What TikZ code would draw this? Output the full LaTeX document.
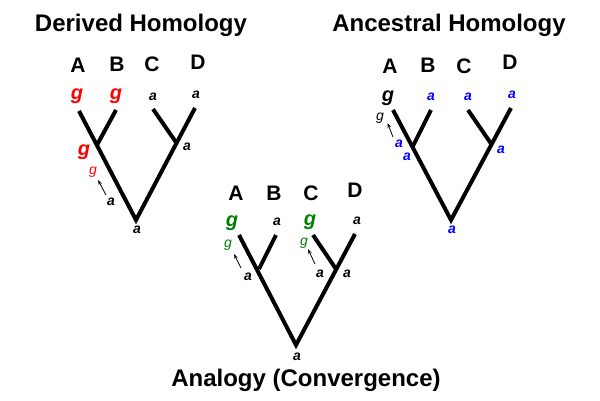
\documentclass[tikz,border=0pt]{standalone}
\usepackage{fontspec}
\setmainfont{Liberation Sans}
\usetikzlibrary{arrows.meta}
\definecolor{gr}{RGB}{0,128,0}
\tikzset{
  title/.style={font=\fontsize{24}{24}\selectfont\bfseries, inner sep=0pt},
  taxon/.style={font=\fontsize{21}{21}\selectfont\bfseries, inner sep=0pt},
  bigg/.style={font=\fontsize{20}{20}\selectfont\bfseries\itshape, inner sep=0pt},
  smallg/.style={font=\fontsize{14}{14}\selectfont\itshape, inner sep=0pt},
  st/.style={font=\fontsize{14}{14}\selectfont\bfseries\itshape, inner sep=0pt},
  branch/.style={line width=4pt, line join=miter},
  evo/.style={-{Stealth[length=5pt,width=3.5pt]}, line width=0.8pt},
}
\begin{document}
\begin{tikzpicture}[x=1pt,y=-1pt]
\useasboundingbox (0,0) rectangle (600,400);
% ---------- Derived Homology ----------
\node[title] (t1) at (141,25) {Derived Homology};
\node[taxon] (a1) at (78,65) {A};
\node[taxon] (b1) at (117,64) {B};
\node[taxon] (c1) at (152,64) {C};
\node[taxon] (d1) at (198,62) {D};
\node[bigg,red] (la1) at (77,96) {g};
\node[bigg,red] (lb1) at (116,96) {g};
\node[st] (lc1) at (153,97) {a};
\node[st] (ld1) at (196,95) {a};
\coordinate (pa1) at (79,111);
\coordinate (pb1) at (116,110);
\coordinate (pc1) at (153,109);
\coordinate (pd1) at (195,108);
\coordinate (jab1) at (97,145);
\coordinate (jcd1) at (176.5,143);
\coordinate (r1) at (136,220);
\draw[branch] (pa1) -- (r1) -- (pd1);
\draw[branch] (pb1) -- (jab1);
\draw[branch] (pc1) -- (jcd1);
\node[bigg,red] (gj1) at (84,152) {g};
\node[smallg,red] (gs1) at (93,172) {g};
\node[st] (as1) at (111,202) {a};
\node[st] (acd1) at (187,147) {a};
\node[st] (ar1) at (137,230) {a};
\coordinate (e1s) at (106,195);
\coordinate (e1e) at (98,180);
\draw[evo] (e1s) -- (e1e);
% ---------- Ancestral Homology ----------
\node[title] (t2) at (449,25) {Ancestral Homology};
\node[taxon] (a2) at (390,66) {A};
\node[taxon] (b2) at (428,65) {B};
\node[taxon] (c2) at (464,66) {C};
\node[taxon] (d2) at (510,62) {D};
\node[bigg] (la2) at (388,98) {g};
\node[st,blue] (lb2) at (431,97) {a};
\node[st,blue] (lc2) at (468,97) {a};
\node[st,blue] (ld2) at (512,95) {a};
\coordinate (pa2) at (393,110);
\coordinate (pb2) at (431,110);
\coordinate (pc2) at (468,110);
\coordinate (pd2) at (511,108);
\coordinate (jab2) at (412.5,147);
\coordinate (jcd2) at (492,145);
\coordinate (r2) at (451,220);
\draw[branch] (pa2) -- (r2) -- (pd2);
\draw[branch] (pb2) -- (jab2);
\draw[branch] (pc2) -- (jcd2);
\node[smallg] (gs2) at (380,118) {g};
\node[st,blue] (as2a) at (399,144) {a};
\node[st,blue] (as2b) at (407,157) {a};
\node[st,blue] (acd2) at (501,150) {a};
\node[st,blue] (ar2) at (452,230) {a};
\coordinate (e2s) at (393,137);
\coordinate (e2e) at (387.5,123);
\draw[evo] (e2s) -- (e2e);
% ---------- Analogy ----------
\node[title] (t3) at (306,380) {Analogy (Convergence)};
\node[taxon] (a3) at (236,193) {A};
\node[taxon] (b3) at (274,193) {B};
\node[taxon] (c3) at (311,193) {C};
\node[taxon] (d3) at (355,190) {D};
\node[bigg,gr] (la3) at (232,223) {g};
\node[st] (lb3) at (277,222) {a};
\node[bigg,gr] (lc3) at (310,222) {g};
\node[st] (ld3) at (357,221) {a};
\coordinate (pa3) at (239,235);
\coordinate (pb3) at (276,235);
\coordinate (pc3) at (313,235);
\coordinate (pd3) at (355,234);
\coordinate (jab3) at (259,269);
\coordinate (jcd3) at (336,269);
\coordinate (r3) at (296,345);
\draw[branch] (pa3) -- (r3) -- (pd3);
\draw[branch] (pb3) -- (jab3);
\draw[branch] (pc3) -- (jcd3);
\node[smallg,gr] (gs3a) at (228,245) {g};
\node[st] (as3a) at (248,277) {a};
\node[smallg,gr] (gs3c) at (304,243) {g};
\node[st] (as3c) at (320,274) {a};
\node[st] (acd3) at (347,274) {a};
\node[st] (ar3) at (297,357) {a};
\coordinate (e3s) at (241,268);
\coordinate (e3e) at (234,254);
\draw[evo] (e3s) -- (e3e);
\coordinate (e4s) at (315,264);
\coordinate (e4e) at (308,249);
\draw[evo] (e4s) -- (e4e);
\end{tikzpicture}
\end{document}
